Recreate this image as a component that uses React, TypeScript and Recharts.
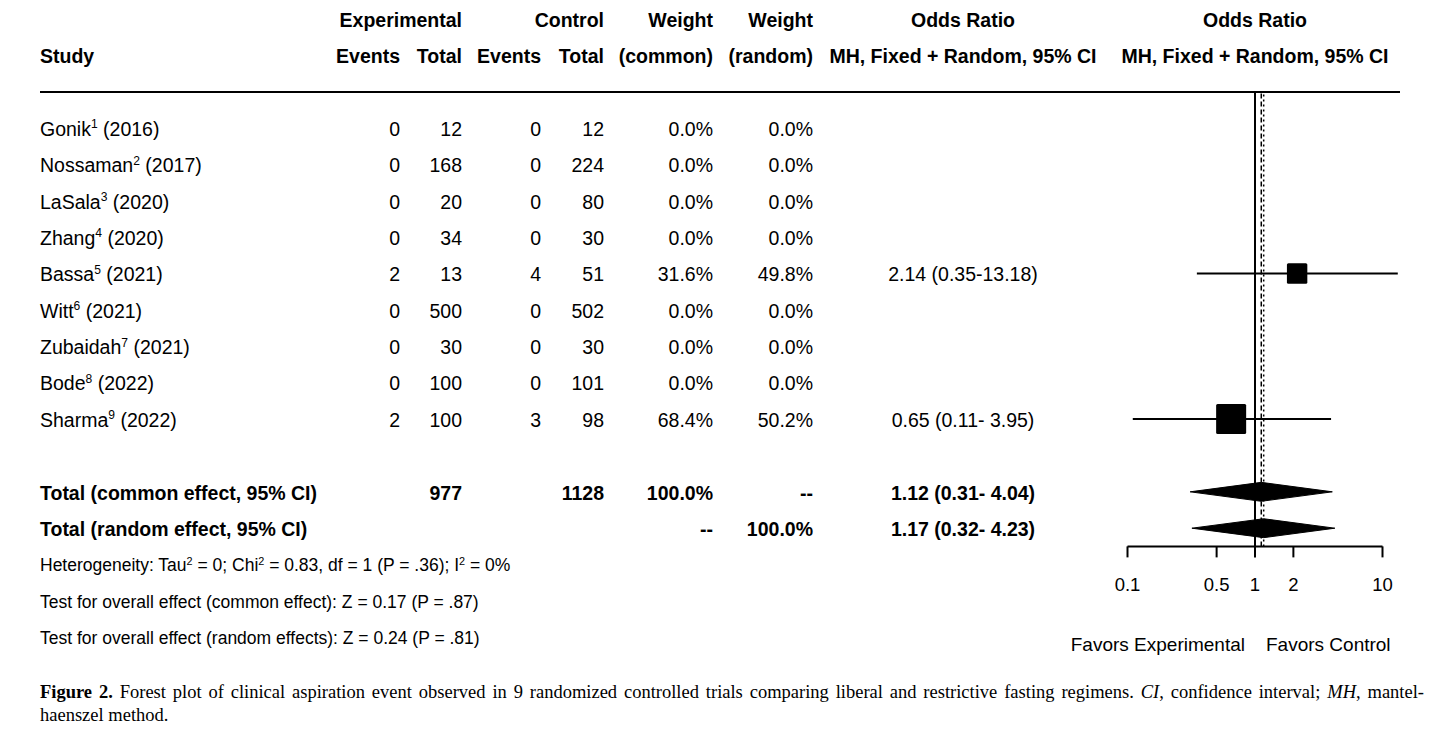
import React from 'react';
import { ComposedChart, XAxis, YAxis, Line, Area, Scatter, ReferenceLine } from 'recharts';

// ---- data ----
const studies = ['Gonik', 'Nossaman', 'LaSala', 'Zhang', 'Bassa', 'Witt', 'Zubaidah', 'Bode', 'Sharma'];
const refs = [1, 2, 3, 4, 5, 6, 7, 8, 9];
const years = [2016, 2017, 2020, 2020, 2021, 2021, 2021, 2022, 2022];
const expEvents = [0, 0, 0, 0, 2, 0, 0, 0, 2];
const expTotal = [12, 168, 20, 34, 13, 500, 30, 100, 100];
const ctrlEvents = [0, 0, 0, 0, 4, 0, 0, 0, 3];
const ctrlTotal = [12, 224, 80, 30, 51, 502, 30, 101, 98];
const weightCommon = [0, 0, 0, 0, 31.6, 0, 0, 0, 68.4];
const weightRandom = [0, 0, 0, 0, 49.8, 0, 0, 0, 50.2];
const oddsRatio = [null, null, null, null, 2.14, null, null, null, 0.65];
const ciLow = [null, null, null, null, 0.35, null, null, null, 0.11];
const ciHigh = [null, null, null, null, 13.18, null, null, null, 3.95];

const totalExp = 977;
const totalCtrl = 1128;
const commonEffect = [1.12, 0.31, 4.04];
const randomEffect = [1.17, 0.32, 4.23];

const axisTicks = [0.1, 0.5, 1, 2, 10];

// ---- layout ----
const W = 1456;
const H = 734;
const FONT = '"Liberation Sans", Arial, sans-serif';
const SERIF = '"Liberation Serif", "Times New Roman", serif';
const FS = 19.5;
const ROW0 = 91.7;
const ROW_H = 36.375;
const rowY = (r: number) => ROW0 + r * ROW_H + 1.5;

const X_MIN = 0.06;
const X_MAX = 1 / 0.06;
const DECADE = 127.5;
const ONE_X = 1255;
const PLOT_LEFT = ONE_X + DECADE * Math.log10(X_MIN);
const PLOT_RIGHT = ONE_X + DECADE * Math.log10(X_MAX);
const Y_MAX = 12.5;
const AXIS_H = 60;
const PLOT_BOTTOM = ROW0 + Y_MAX * ROW_H;

const COL = { expEv: 400, expTot: 462, ctrlEv: 541, ctrlTot: 604, wCom: 713, wRan: 813, or: 963, plot: 1255 };

const studyRows = studies.map((_, i) => i + 1);
const COMMON_ROW = 11;
const RANDOM_ROW = 12;
const DIAMOND_H = 0.26;

const fmtCI = (est: number, lo: number, hi: number) =>
    `${est.toFixed(2)} (${lo.toFixed(2)}-${hi.toFixed(2).padStart(5)})`;

const diamond = (e: number[], row: number) => [
    { x: e[1], band: [row, row] },
    { x: e[0], band: [row - DIAMOND_H, row + DIAMOND_H] },
    { x: e[2], band: [row, row] },
];

type TProps = {
    x: number;
    y: number;
    align?: 'left' | 'right' | 'center';
    bold?: boolean;
    size?: number;
    family?: string;
    children: React.ReactNode;
};

function T({ x, y, align = 'left', bold, size = FS, family = FONT, children }: TProps) {
    const style: React.CSSProperties = {
        position: 'absolute',
        top: y - size / 2,
        height: size,
        lineHeight: `${size}px`,
        fontSize: size,
        fontFamily: family,
        fontWeight: bold ? 700 : 400,
        whiteSpace: 'pre',
        color: '#000',
    };
    if (align === 'left') style.left = x;
    else if (align === 'right') style.right = W - x;
    else {
        style.left = x;
        style.transform = 'translateX(-50%)';
    }
    return <div style={style}>{children}</div>;
}

const Sup = ({ children }: { children: React.ReactNode }) => (
    <span style={{ fontSize: '0.62em', position: 'relative', top: '-0.62em', lineHeight: 0 }}>{children}</span>
);

const Square = (props: any) => {
    const { cx, cy, payload } = props;
    const s = 36.3 * Math.sqrt(payload.w / 100);
    return <rect x={cx - s / 2} y={cy - s / 2} width={s} height={s} rx={1.5} fill="#000" />;
};

const CAP_FS = 18.5;
const captionStyle = (y: number, justify: boolean): React.CSSProperties => ({
    position: 'absolute',
    left: 40,
    top: y - CAP_FS / 2,
    width: 1384,
    lineHeight: `${CAP_FS}px`,
    fontSize: CAP_FS,
    fontFamily: SERIF,
    color: '#000',
    whiteSpace: 'nowrap',
    textAlign: justify ? 'justify' : 'left',
    textAlignLast: justify ? 'justify' : 'left',
});

export default function App() {
    const squares = studyRows
        .map((r, i) => ({ x: oddsRatio[i], y: r, w: weightCommon[i] }))
        .filter((d) => d.x !== null);

    return (
        <div style={{ position: 'absolute', left: 0, top: 0, width: W, height: H, background: '#fff', overflow: 'hidden' }}>
            <ComposedChart
                width={W}
                height={H}
                margin={{ top: ROW0, left: PLOT_LEFT, right: W - PLOT_RIGHT, bottom: H - PLOT_BOTTOM - AXIS_H }}
            >
                <XAxis
                    type="number"
                    dataKey="x"
                    scale="log"
                    domain={[X_MIN, X_MAX]}
                    ticks={axisTicks}
                    interval={0}
                    tickFormatter={(v: number) => String(v)}
                    axisLine={false}
                    tickSize={11}
                    tickMargin={20}
                    height={AXIS_H}
                    tickLine={{ stroke: '#000', strokeWidth: 2 }}
                    tick={{ fill: '#000', fontSize: 18.5, fontFamily: FONT }}
                />
                <YAxis type="number" dataKey="y" domain={[0, Y_MAX]} reversed hide />

                <ReferenceLine x={commonEffect[0]} stroke="#000" strokeWidth={1.5} strokeDasharray="5 3" />
                <ReferenceLine x={randomEffect[0]} stroke="#000" strokeWidth={1.5} strokeDasharray="2 3" />
                <ReferenceLine x={1} stroke="#000" strokeWidth={2} />

                {/* x axis line from 0.1 to 10 only */}
                <Line
                    data={[{ x: axisTicks[0], y: Y_MAX }, { x: axisTicks[axisTicks.length - 1], y: Y_MAX }]}
                    dataKey="y"
                    stroke="#000"
                    strokeWidth={2}
                    dot={false}
                    activeDot={false}
                    isAnimationActive={false}
                />

                {studyRows.map((r, i) =>
                    oddsRatio[i] === null ? null : (
                        <Line
                            key={studies[i]}
                            data={[{ x: ciLow[i], y: r }, { x: ciHigh[i], y: r }]}
                            dataKey="y"
                            stroke="#000"
                            strokeWidth={2}
                            dot={false}
                            activeDot={false}
                            isAnimationActive={false}
                        />
                    )
                )}

                <Scatter data={squares} shape={Square} isAnimationActive={false} />

                <Area
                    data={diamond(commonEffect, COMMON_ROW)}
                    dataKey="band"
                    type="linear"
                    stroke="#000"
                    strokeWidth={1}
                    fill="#000"
                    fillOpacity={1}
                    dot={false}
                    activeDot={false}
                    isAnimationActive={false}
                />
                <Area
                    data={diamond(randomEffect, RANDOM_ROW)}
                    dataKey="band"
                    type="linear"
                    stroke="#000"
                    strokeWidth={1}
                    fill="#000"
                    fillOpacity={1}
                    dot={false}
                    activeDot={false}
                    isAnimationActive={false}
                />
            </ComposedChart>

            {/* header */}
            <T x={COL.expTot} y={rowY(-2)} align="right" bold>Experimental</T>
            <T x={COL.ctrlTot} y={rowY(-2)} align="right" bold>Control</T>
            <T x={COL.wCom} y={rowY(-2)} align="right" bold>Weight</T>
            <T x={COL.wRan} y={rowY(-2)} align="right" bold>Weight</T>
            <T x={COL.or} y={rowY(-2)} align="center" bold>Odds Ratio</T>
            <T x={COL.plot} y={rowY(-2)} align="center" bold>Odds Ratio</T>

            <T x={40} y={rowY(-1)} bold>Study</T>
            <T x={COL.expEv} y={rowY(-1)} align="right" bold>Events</T>
            <T x={COL.expTot} y={rowY(-1)} align="right" bold>Total</T>
            <T x={COL.ctrlEv} y={rowY(-1)} align="right" bold>Events</T>
            <T x={COL.ctrlTot} y={rowY(-1)} align="right" bold>Total</T>
            <T x={COL.wCom} y={rowY(-1)} align="right" bold>(common)</T>
            <T x={COL.wRan} y={rowY(-1)} align="right" bold>(random)</T>
            <T x={COL.or} y={rowY(-1)} align="center" bold>MH, Fixed + Random, 95% CI</T>
            <T x={COL.plot} y={rowY(-1)} align="center" bold>MH, Fixed + Random, 95% CI</T>

            <div style={{ position: 'absolute', left: 40, top: ROW0 - 1, width: 1360, height: 2, background: '#000' }} />

            {/* studies */}
            {studyRows.map((r, i) => (
                <React.Fragment key={studies[i]}>
                    <T x={40} y={rowY(r)}>
                        {studies[i]}
                        <Sup>{refs[i]}</Sup>
                        {` (${years[i]})`}
                    </T>
                    <T x={COL.expEv} y={rowY(r)} align="right">{expEvents[i]}</T>
                    <T x={COL.expTot} y={rowY(r)} align="right">{expTotal[i]}</T>
                    <T x={COL.ctrlEv} y={rowY(r)} align="right">{ctrlEvents[i]}</T>
                    <T x={COL.ctrlTot} y={rowY(r)} align="right">{ctrlTotal[i]}</T>
                    <T x={COL.wCom} y={rowY(r)} align="right">{`${weightCommon[i].toFixed(1)}%`}</T>
                    <T x={COL.wRan} y={rowY(r)} align="right">{`${weightRandom[i].toFixed(1)}%`}</T>
                    {oddsRatio[i] !== null && (
                        <T x={COL.or} y={rowY(r)} align="center">
                            {fmtCI(oddsRatio[i] as number, ciLow[i] as number, ciHigh[i] as number)}
                        </T>
                    )}
                </React.Fragment>
            ))}

            {/* totals */}
            <T x={40} y={rowY(COMMON_ROW)} bold>Total (common effect, 95% CI)</T>
            <T x={COL.expTot} y={rowY(COMMON_ROW)} align="right" bold>{totalExp}</T>
            <T x={COL.ctrlTot} y={rowY(COMMON_ROW)} align="right" bold>{totalCtrl}</T>
            <T x={COL.wCom} y={rowY(COMMON_ROW)} align="right" bold>100.0%</T>
            <T x={COL.wRan} y={rowY(COMMON_ROW)} align="right" bold>--</T>
            <T x={COL.or} y={rowY(COMMON_ROW)} align="center" bold>
                {fmtCI(commonEffect[0], commonEffect[1], commonEffect[2])}
            </T>

            <T x={40} y={rowY(RANDOM_ROW)} bold>Total (random effect, 95% CI)</T>
            <T x={COL.wCom} y={rowY(RANDOM_ROW)} align="right" bold>--</T>
            <T x={COL.wRan} y={rowY(RANDOM_ROW)} align="right" bold>100.0%</T>
            <T x={COL.or} y={rowY(RANDOM_ROW)} align="center" bold>
                {fmtCI(randomEffect[0], randomEffect[1], randomEffect[2])}
            </T>

            {/* footnotes */}
            <T x={40} y={rowY(13)} size={17.5}>
                Heterogeneity: Tau<Sup>2</Sup> = 0; Chi<Sup>2</Sup> = 0.83, df = 1 (P = .36); I<Sup>2</Sup> = 0%
            </T>
            <T x={40} y={rowY(14)} size={17.5}>Test for overall effect (common effect): Z = 0.17 (P = .87)</T>
            <T x={40} y={rowY(15)} size={17.5}>Test for overall effect (random effects): Z = 0.24 (P = .81)</T>

            <T x={1245} y={644} align="right" size={19}>Favors Experimental</T>
            <T x={1266} y={644} size={19}>Favors Control</T>

            {/* caption, first line justified to the full text width */}
            <div style={captionStyle(692, true)}>
                <b>Figure 2.</b> Forest plot of clinical aspiration event observed in 9 randomized controlled trials
                comparing liberal and restrictive fasting regimens. <i>CI</i>, confidence interval; <i>MH</i>, mantel-
            </div>
            <div style={captionStyle(715, false)}>haenszel method.</div>
        </div>
    );
}
